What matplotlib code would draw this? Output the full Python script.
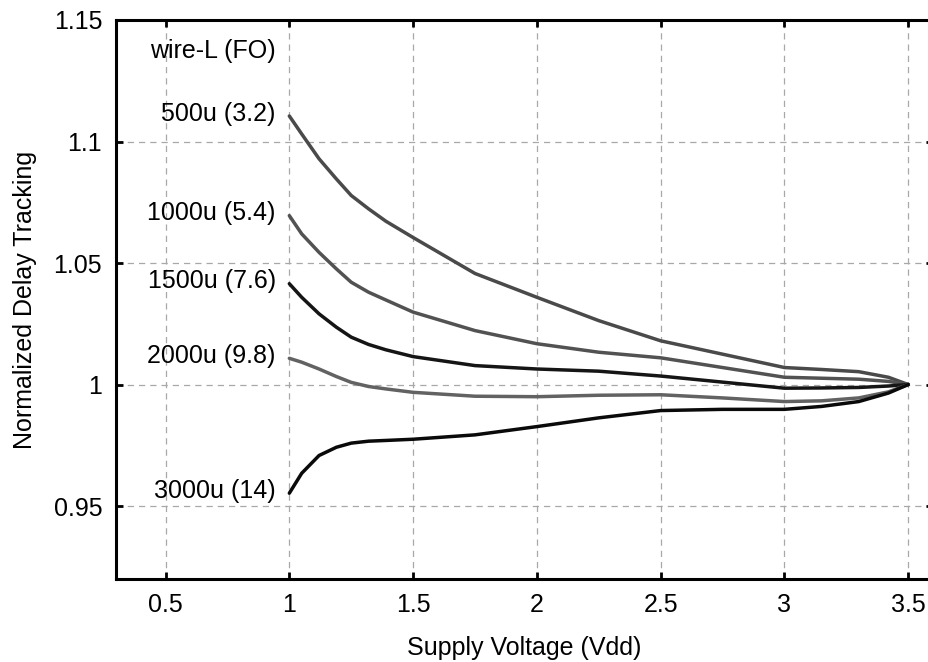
import matplotlib
matplotlib.use("Agg")
from matplotlib import pyplot as plt

# supply voltage points (Vdd)
vdd = [1.0, 1.05, 1.12, 1.19, 1.25, 1.32, 1.39, 1.5, 1.75, 2.0, 2.25, 2.5, 2.75, 3.0, 3.15, 3.3, 3.42, 3.5]

wire_500 = [1.1105, 1.1031, 1.0929, 1.0846, 1.0778, 1.0723, 1.0672, 1.0605, 1.0457, 1.0359, 1.0263,
            1.0180, 1.0125, 1.0070, 1.0062, 1.0053, 1.0030, 1.0]
wire_1000 = [1.0695, 1.0620, 1.0544, 1.0476, 1.0421, 1.0380, 1.0348, 1.0298, 1.0222, 1.0168, 1.0133,
             1.0110, 1.0070, 1.0030, 1.0026, 1.0022, 1.0013, 1.0]
wire_1500 = [1.0415, 1.0359, 1.0291, 1.0236, 1.0195, 1.0165, 1.0143, 1.0115, 1.0078, 1.0064, 1.0055,
             1.0035, 1.0010, 0.9985, 0.9986, 0.9988, 0.9994, 1.0]
wire_2000 = [1.0108, 1.0092, 1.0064, 1.0033, 1.0009, 0.9992, 0.9982, 0.9968, 0.9952, 0.9950, 0.9956,
             0.9958, 0.9945, 0.9930, 0.9933, 0.9945, 0.9970, 1.0]
wire_3000 = [0.9553, 0.9635, 0.9708, 0.9742, 0.9759, 0.9767, 0.9770, 0.9775, 0.9793, 0.9827, 0.9863,
             0.9893, 0.9898, 0.9898, 0.9910, 0.9930, 0.9965, 1.0]

series = [wire_500, wire_1000, wire_1500, wire_2000, wire_3000]
labels = ["500u (3.2)", "1000u (5.4)", "1500u (7.6)", "2000u (9.8)", "3000u (14)"]
colors = ["#4a4a4a", "#525252", "#151515", "#626262", "#0a0a0a"]

plt.rcParams["font.family"] = ["Liberation Sans", "DejaVu Sans"]
plt.rcParams["font.size"] = 18

fig = plt.figure(figsize=(9.29, 6.62), dpi=100)
ax = fig.add_axes([0.1249, 0.1254, 0.8794, 0.8444])

for ys, lab, c in zip(series, labels, colors):
    ax.plot(vdd, ys, color=c, linewidth=2.5, solid_capstyle="round", solid_joinstyle="round")
    ax.text(0.945, ys[0] + 0.001, lab, ha="right", va="center", color="black")

ax.text(0.945, 1.1374, "wire-L (FO)", ha="right", va="center", color="black")

ax.set_xlim(0.3, 3.6)
ax.set_ylim(0.92, 1.15)
ax.set_xticks([0.5, 1, 1.5, 2, 2.5, 3, 3.5])
ax.set_xticklabels(["0.5", "1", "1.5", "2", "2.5", "3", "3.5"])
ax.set_yticks([0.95, 1, 1.05, 1.1, 1.15])
ax.set_yticklabels(["0.95", "1", "1.05", "1.1", "1.15"])

ax.grid(True, color="#a8a8a8", linestyle=(0, (5, 4)), linewidth=0.9)
ax.tick_params(direction="in", length=5, width=2, top=True, right=True, pad=10)
for s in ax.spines.values():
    s.set_linewidth(2.2)

ax.set_xlabel("Supply Voltage (Vdd)", labelpad=14)
ax.set_ylabel("Normalized Delay Tracking", labelpad=12)

fig.savefig("out.png", dpi=100)
